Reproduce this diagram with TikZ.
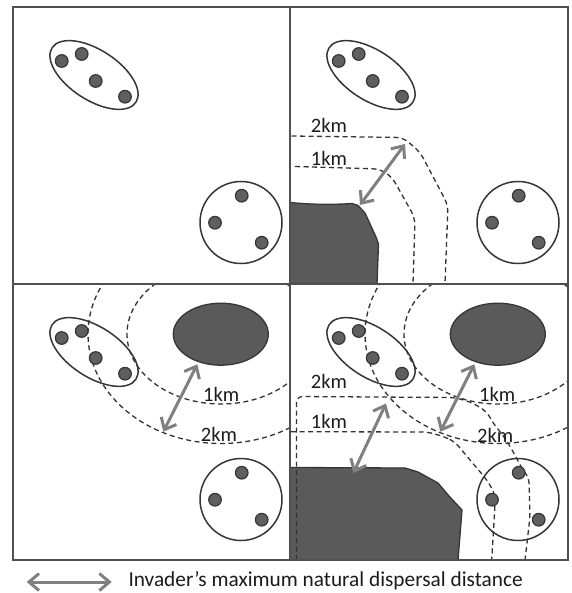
\documentclass[tikz,border=0pt]{standalone}
\usepackage{fontspec}
\setmainfont{Carlito}
\usetikzlibrary{arrows.meta}

\definecolor{framegray}{HTML}{505050}
\definecolor{darkfill}{HTML}{5A5A5A}
\definecolor{darkedge}{HTML}{363636}
\definecolor{dotfill}{HTML}{5F5F5F}
\definecolor{linegray}{HTML}{333333}
\definecolor{arrowgray}{HTML}{808080}
\definecolor{textgray}{HTML}{1C1C1C}

\tikzset{
  panelframe/.style={draw=framegray, line width=2pt},
  patch/.style={fill=darkfill, draw=darkedge, line width=1.3pt},
  groupline/.style={draw=darkedge, line width=1.5pt},
  site/.style={fill=dotfill, draw=darkedge, line width=1.2pt},
  contour/.style={draw=linegray, line width=1.3pt, dash pattern=on 5pt off 3.5pt},
  reach/.style={draw=arrowgray, line width=3pt,
    {Straight Barb[length=10pt,width=17pt]}-{Straight Barb[length=10pt,width=17pt]}},
  kmlabel/.style={anchor=base west, inner sep=0pt, text=textgray,
    font=\fontsize{20.5}{24}\selectfont},
  keytext/.style={anchor=base west, inner sep=0pt, text=textgray,
    font=\fontsize{21.3}{25}\selectfont},
}

% one elongated group of four sites and one round group of three sites
\newcommand\populations{%
  \draw[groupline, shift={(94,75)}, rotate=-33] (0,0) ellipse [x radius=50, y radius=25];
  \draw[groupline] (241,222.5) circle [radius=41];
  \foreach \p in {(61.7,61),(81.7,54),(95.7,81),(125,96.7),(241.7,195.7),(215,222.7),(261.7,242.7)}
    \filldraw[site] \p circle [radius=6.3];
}

\begin{document}
\begin{tikzpicture}[x=1pt, y=-1pt]
\useasboundingbox (0,0) rectangle (571,593);
\fill[white] (0,0) rectangle (571,593);

% ---- invaded patches ----
\filldraw[patch] (290,202.5) .. controls (315,205) and (338,204.5) .. (352,203.5)
  -- (358,205.5) -- (365,213) -- (376,237) -- (378.5,244) -- (377,283.5) -- (290,283.5) -- cycle;
\filldraw[patch] (220.8,334.2) ellipse [x radius=47.5, y radius=31];
\filldraw[patch] (497.8,334.2) ellipse [x radius=47.5, y radius=31];
\filldraw[patch] (290,467.5) -- (405,468) -- (418,472) -- (438,483) -- (449,496)
  -- (462,510) -- (458,560) -- (290,560) -- cycle;

% ---- distance contours ----
\draw[contour, rounded corners=7pt] (291.5,136) -- (403,137.5) -- (420,152) -- (448,205) -- (445,283.5);
\draw[contour, rounded corners=7pt] (295,166.5) -- (380,169) -- (392,177) -- (415,218) -- (413,283.5);

\begin{scope}
  \clip (12.5,283.5) rectangle (290,560);
  \draw[contour] (221,334) ellipse [x radius=94, y radius=70];
  \draw[contour] (221,334) ellipse [x radius=133, y radius=109.5];
\end{scope}
\begin{scope}
  \clip (290,283.5) rectangle (568,560);
  \draw[contour] (498,334) ellipse [x radius=94, y radius=70];
  \draw[contour] (498,334) ellipse [x radius=133, y radius=109.5];
\end{scope}

\draw[contour, rounded corners=6pt] (296.5,560) -- (296.5,396.5) -- (455,397.5) -- (473,403)
  -- (487,412) -- (493,423) -- (505,438) -- (515,455) -- (521,467) -- (529,478)
  -- (530,517) -- (525,560);
\draw[contour, rounded corners=6pt] (291,431.7) -- (428,432) -- (445,437) -- (455,442)
  -- (470,460) -- (487,480) -- (495,494) -- (495,505) -- (491.7,560);

% ---- populations in every panel ----
\populations
\begin{scope}[shift={(277,0)}]\populations\end{scope}
\begin{scope}[shift={(0,277)}]\populations\end{scope}
\begin{scope}[shift={(277,277)}]\populations\end{scope}

% ---- panel frames ----
\draw[panelframe] (12.5,7) rectangle (568,560);
\draw[panelframe] (290,7) -- (290,560);
\draw[panelframe] (12.5,283.5) -- (568,283.5);

% ---- dispersal arrows ----
\coordinate (trA) at (360,205);   \coordinate (trB) at (405,144);
\coordinate (blA) at (163.3,431.7); \coordinate (blB) at (197.3,364.3);
\coordinate (brA) at (440.3,431.7); \coordinate (brB) at (474.3,364.3);
\coordinate (bpA) at (353.3,473); \coordinate (bpB) at (386,403.5);
\coordinate (lgA) at (26.7,582);  \coordinate (lgB) at (111.7,582);
\draw[reach] (trA) -- (trB);
\draw[reach] (blA) -- (blB);
\draw[reach] (brA) -- (brB);
\draw[reach] (bpA) -- (bpB);
\draw[reach] (lgA) -- (lgB);

% ---- labels ----
\node[kmlabel] (tr2) at (310.7,132.7) {2km};
\node[kmlabel] (tr1) at (310.7,165.7) {1km};
\node[kmlabel] (bl1) at (203,401.7) {1km};
\node[kmlabel] (bl2) at (200.7,441.7) {2km};
\node[kmlabel] (bp2) at (310.7,388) {2km};
\node[kmlabel] (bp1) at (310.7,428.3) {1km};
\node[kmlabel] (br1) at (479,401.7) {1km};
\node[kmlabel] (br2) at (477,442.3) {2km};
\node[keytext] (legend) at (128.3,586.7) {Invader’s maximum natural dispersal distance};
\end{tikzpicture}
\end{document}
